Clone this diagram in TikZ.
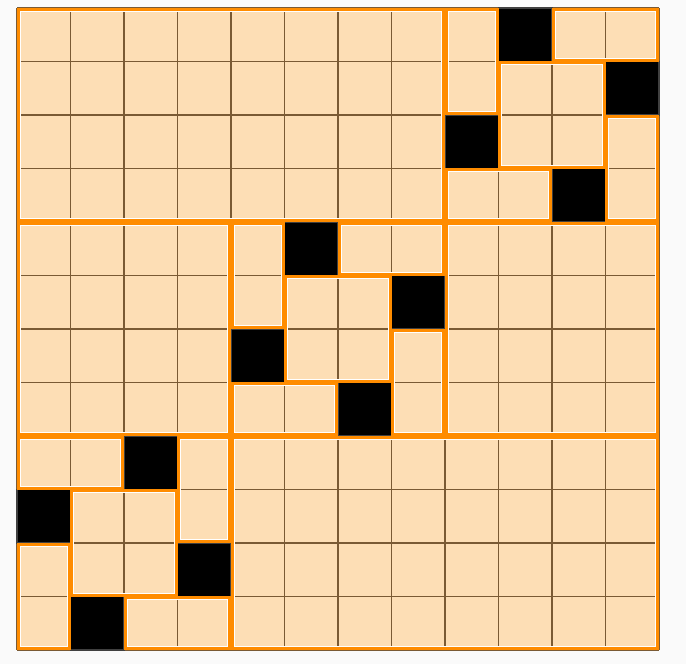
\documentclass[tikz,border=0pt]{standalone}
\definecolor{peach}{RGB}{253,222,181}
\definecolor{gridbrown}{RGB}{122,90,52}
\definecolor{orng}{RGB}{255,140,0}
\definecolor{bgc}{RGB}{250,250,250}
\definecolor{edgegray}{RGB}{64,64,64}
\tikzset{
  regionline/.style={draw=orng, line width=2.8pt},
  innerline/.style={draw=white, line width=0.9pt},
  gridline/.style={draw=gridbrown, line width=1.5pt},
  blackcell/.style={fill=black, draw=edgegray, line width=1.6pt}
}
\newcommand\regbox[4]{%
  \draw[regionline] ([shift={(1.2pt,-1.2pt)}]#1,#2) rectangle ([shift={(-1.2pt,1.2pt)}]#3,#4);
  \draw[innerline] ([shift={(3.2pt,-3.2pt)}]#1,#2) rectangle ([shift={(-3.2pt,3.2pt)}]#3,#4);
}
\begin{document}
\begin{tikzpicture}
\fill[bgc] (0,0) rectangle (686pt,-664pt);
\useasboundingbox (0,0) rectangle (686pt,-664pt);
\begin{scope}[shift={(17pt,-8pt)}, x=53.5pt, y=-53.5pt]
  \fill[peach] (0,0) rectangle (12,12);
  \foreach \k in {0,...,12} {
    \draw[gridline] (\k,0) -- (\k,12);
    \draw[gridline] (0,\k) -- (12,\k);
  }
  \foreach \c/\r in {9/0,11/1,8/2,10/3,5/4,7/5,4/6,6/7,2/8,0/9,3/10,1/11}
    \draw[blackcell] (\c,\r) rectangle ++(1,1);
  % big rectangles
  \regbox{0}{0}{8}{4}
  \regbox{0}{4}{4}{8}
  \regbox{8}{4}{12}{8}
  \regbox{4}{8}{12}{12}
  % top-right block (base 8,0)
  \regbox{8}{0}{9}{2}
  \regbox{10}{0}{12}{1}
  \regbox{9}{1}{11}{3}
  \regbox{11}{2}{12}{4}
  \regbox{8}{3}{10}{4}
  % middle block (base 4,4)
  \regbox{4}{4}{5}{6}
  \regbox{6}{4}{8}{5}
  \regbox{5}{5}{7}{7}
  \regbox{7}{6}{8}{8}
  \regbox{4}{7}{6}{8}
  % bottom-left block (base 0,8)
  \regbox{0}{8}{2}{9}
  \regbox{1}{9}{3}{11}
  \regbox{3}{8}{4}{10}
  \regbox{0}{10}{1}{12}
  \regbox{2}{11}{4}{12}
\end{scope}
\end{tikzpicture}
\end{document}
